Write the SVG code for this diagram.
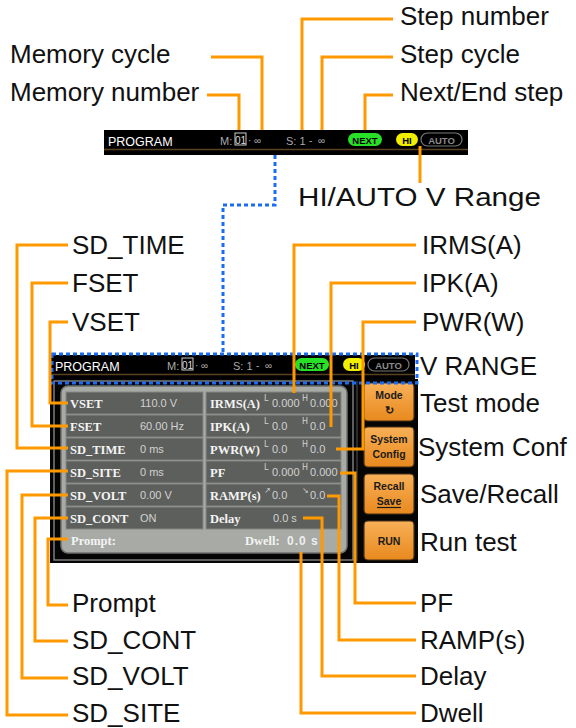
<svg xmlns="http://www.w3.org/2000/svg" width="576" height="728" viewBox="0 0 576 728">
<defs>
<style>
.lbl{font-family:"Liberation Sans",Arial,sans-serif;font-size:26px;fill:#111}
.con{fill:none;stroke:#ff9900;stroke-width:3}
.dot{fill:none;stroke:#1a6cf5;stroke-width:3;stroke-dasharray:4 3}
.cell{fill:#5d5f5c;stroke:#858784;stroke-width:1}
.fn{font-family:"Liberation Serif","Times New Roman",serif;font-weight:bold;font-size:12.5px;fill:#f4f4f4}
.val{font-family:"Liberation Sans",Arial,sans-serif;font-size:11px;fill:#d2d2d2}
.sup{font-family:"DejaVu Sans",sans-serif;font-size:8px;fill:#d2d2d2}
.btn{fill:url(#og);stroke:#4a3018;stroke-width:1.2}
.bt{font-family:"Liberation Sans",Arial,sans-serif;font-weight:bold;font-size:10.5px;fill:#1a1a1a;text-anchor:middle}
.hs{font-family:"Liberation Sans",Arial,sans-serif}
</style>
<linearGradient id="og" x1="0" y1="0" x2="0" y2="1"><stop offset="0" stop-color="#f8b058"/><stop offset="1" stop-color="#e8891e"/></linearGradient>
<g id="hdr" class="hs">
 <rect x="0" y="0" width="364" height="24" fill="#000"/>
 <line x1="0" y1="19.5" x2="364" y2="19.5" stroke="#5a4220" stroke-width="1.5"/>
 <text x="4" y="16" font-size="12.5" fill="#fff">PROGRAM</text>
 <text x="116" y="15" font-size="11" fill="#aaa">M:</text>
 <rect x="131" y="3" width="11" height="12" fill="none" stroke="#ccc" stroke-width="1"/>
 <text x="136.5" y="13.5" font-size="10" fill="#ddd" text-anchor="middle">01</text>
 <text x="144" y="14" font-size="10" fill="#aaa">·</text>
 <text x="150" y="14" font-size="10" fill="#aaa">∞</text>
 <text x="182" y="15" font-size="11" fill="#aaa">S: 1</text>
 <text x="205" y="14" font-size="10" fill="#aaa">-</text>
 <text x="214" y="14" font-size="10" fill="#aaa">∞</text>
 <rect x="244" y="3" width="34" height="13" rx="6.5" fill="#27e027"/>
 <text x="261" y="13.5" font-size="9.5" font-weight="bold" fill="#000" text-anchor="middle">NEXT</text>
 <rect x="292" y="3" width="22" height="13" rx="6.5" fill="#f2ee00"/>
 <text x="303" y="13.5" font-size="9.5" font-weight="bold" fill="#000" text-anchor="middle">HI</text>
 <rect x="317" y="3" width="41" height="13" rx="6.5" fill="none" stroke="#777" stroke-width="1.2"/>
 <text x="337.5" y="13.5" font-size="9.5" font-weight="bold" fill="#8a8a8a" text-anchor="middle">AUTO</text>
</g>
</defs>
<rect width="576" height="728" fill="#fff"/>

<g id="top-bar">
 <rect x="104" y="150" width="364" height="5" fill="#000"/>
 <line x1="107" y1="153" x2="405" y2="153" stroke="#c8c8c8" stroke-width="2"/>
 <line x1="412" y1="153" x2="466" y2="153" stroke="#c98a3a" stroke-width="2"/>
 <use href="#hdr" x="104" y="130"/>
</g>

<g id="screen">
 <rect x="50" y="379" width="368" height="184" fill="#050505"/>
 <rect x="54" y="381" width="299" height="179" fill="none" stroke="#9a9a9a" stroke-width="1.2"/>
 <line x1="357" y1="381" x2="357" y2="561" stroke="#555" stroke-width="1"/>
 <rect x="61" y="386" width="286" height="167" rx="7" fill="#a7aaa5" stroke="#6e706c" stroke-width="1.5"/>
 <use href="#hdr" x="51" y="355"/>
</g>

<g id="left-table">
 <rect class="cell" x="66" y="392" width="137" height="22"/>
 <rect class="cell" x="66" y="415" width="137" height="22"/>
 <rect class="cell" x="66" y="438" width="137" height="22"/>
 <rect class="cell" x="66" y="461" width="137" height="22"/>
 <rect class="cell" x="66" y="484" width="137" height="22"/>
 <rect class="cell" x="66" y="507" width="137" height="22"/>
 <text class="fn" x="70" y="408">VSET</text>
 <text class="fn" x="70" y="431">FSET</text>
 <text class="fn" x="70" y="454">SD_TIME</text>
 <text class="fn" x="70" y="477">SD_SITE</text>
 <text class="fn" x="70" y="500">SD_VOLT</text>
 <text class="fn" x="70" y="523">SD_CONT</text>
 <text class="val" x="140" y="407">110.0 V</text>
 <text class="val" x="140" y="430">60.00 Hz</text>
 <text class="val" x="140" y="453">0 ms</text>
 <text class="val" x="140" y="476">0 ms</text>
 <text class="val" x="140" y="499">0.00 V</text>
 <text class="val" x="140" y="522">ON</text>
</g>

<g id="right-table">
 <rect class="cell" x="206" y="392" width="135" height="22"/>
 <rect class="cell" x="206" y="415" width="135" height="22"/>
 <rect class="cell" x="206" y="438" width="135" height="22"/>
 <rect class="cell" x="206" y="461" width="135" height="22"/>
 <rect class="cell" x="206" y="484" width="135" height="22"/>
 <rect class="cell" x="206" y="507" width="135" height="22"/>
 <text class="fn" x="210" y="408">IRMS(A)</text>
 <text class="fn" x="210" y="431">IPK(A)</text>
 <text class="fn" x="210" y="454">PWR(W)</text>
 <text class="fn" x="210" y="477">PF</text>
 <text class="fn" x="210" y="500">RAMP(s)</text>
 <text class="fn" x="210" y="523">Delay</text>
 <text class="sup" x="264" y="401">L</text><text class="val" x="272" y="407">0.000</text>
 <text class="sup" x="302" y="401">H</text><text class="val" x="310" y="407">0.000</text>
 <text class="sup" x="264" y="424">L</text><text class="val" x="272" y="430">0.0</text>
 <text class="sup" x="302" y="424">H</text><text class="val" x="310" y="430">0.0</text>
 <text class="sup" x="264" y="447">L</text><text class="val" x="272" y="453">0.0</text>
 <text class="sup" x="302" y="447">H</text><text class="val" x="310" y="453">0.0</text>
 <text class="sup" x="264" y="470">L</text><text class="val" x="272" y="476">0.000</text>
 <text class="sup" x="302" y="470">H</text><text class="val" x="310" y="476">0.000</text>
 <text class="sup" x="264" y="493">↗</text><text class="val" x="272" y="499">0.0</text>
 <text class="sup" x="302" y="493">↘</text><text class="val" x="310" y="499">0.0</text>
 <text class="val" x="273" y="522">0.0 s</text>
</g>

<g id="prompt-row">
 <text class="fn" x="71" y="545">Prompt:</text>
 <text class="fn" x="245" y="545">Dwell:</text>
 <text x="287" y="545" font-family="Liberation Sans, Arial, sans-serif" font-weight="bold" font-size="12" letter-spacing="1" fill="#eee">0.0 s</text>
</g>

<g id="btn-mode">
 <rect class="btn" x="364" y="383" width="50" height="38" rx="4"/>
 <text class="bt" x="389" y="399">Mode</text>
 <text class="bt" x="389" y="414" font-family="DejaVu Sans, sans-serif" font-size="10">↻</text>
</g>
<g id="btn-system">
 <rect class="btn" x="364" y="427" width="50" height="40" rx="4"/>
 <text class="bt" x="389" y="443">System</text>
 <text class="bt" x="389" y="458">Config</text>
</g>
<g id="btn-recall">
 <rect class="btn" x="364" y="474" width="50" height="40" rx="4"/>
 <text class="bt" x="389" y="490">Recall</text>
 <text class="bt" x="389" y="505">Save</text>
 <line x1="377" y1="507.5" x2="401" y2="507.5" stroke="#1a1a1a" stroke-width="1.2"/>
</g>
<g id="btn-run">
 <rect class="btn" x="364" y="521" width="50" height="39" rx="4"/>
 <text class="bt" x="389" y="545">RUN</text>
</g>

<g id="connectors">
 <polyline class="dot" points="275,155 275,205 223,205 223,354"/>
 <rect class="dot" x="52" y="354" width="365" height="29"/>
 <polyline class="con" points="207,95 239,95 239,130"/>
 <polyline class="con" points="211,57 262,57 262,130"/>
 <polyline class="con" points="393,19 302,19 302,130"/>
 <polyline class="con" points="393,57 322,57 322,130"/>
 <polyline class="con" points="393,95 365,95 365,130"/>
 <polyline class="con" points="420,146 420,183"/>
 <polyline class="con" points="68,245 17,245 17,448 68,448"/>
 <polyline class="con" points="68,283 32,283 32,426 68,426"/>
 <polyline class="con" points="68,322 50,322 50,403 68,403"/>
 <polyline class="con" points="68,471 7,471 7,715 68,715"/>
 <polyline class="con" points="68,495 22,495 22,678 68,678"/>
 <polyline class="con" points="68,518 35,518 35,641 68,641"/>
 <polyline class="con" points="68,539 48,539 48,605 68,605"/>
 <polyline class="con" points="416,245 294,245 294,393"/>
 <polyline class="con" points="416,283 331,283 331,427"/>
 <polyline class="con" points="416,322 363,322 363,449 336,449"/>
 <polyline class="con" points="340,473 355,473 355,603 416,603"/>
 <polyline class="con" points="327,496 339,496 339,640 416,640"/>
 <polyline class="con" points="303,518 322,518 322,676 416,676"/>
 <polyline class="con" points="301,552 301,713 416,713"/>
</g>

<g id="labels">
 <text class="lbl" x="400" y="25">Step number</text>
 <text class="lbl" x="10" y="63">Memory cycle</text>
 <text class="lbl" x="400" y="63">Step cycle</text>
 <text class="lbl" x="10" y="101">Memory number</text>
 <text class="lbl" x="400" y="101">Next/End step</text>
 <text class="lbl" x="298" y="206" textLength="243" lengthAdjust="spacingAndGlyphs">HI/AUTO V Range</text>
 <text class="lbl" x="72" y="254">SD_TIME</text>
 <text class="lbl" x="72" y="292">FSET</text>
 <text class="lbl" x="72" y="331">VSET</text>
 <text class="lbl" x="422" y="254">IRMS(A)</text>
 <text class="lbl" x="422" y="292">IPK(A)</text>
 <text class="lbl" x="422" y="331">PWR(W)</text>
 <text class="lbl" x="420" y="375">V RANGE</text>
 <text class="lbl" x="420" y="412">Test mode</text>
 <text class="lbl" x="418" y="456">System Conf</text>
 <text class="lbl" x="420" y="503">Save/Recall</text>
 <text class="lbl" x="420" y="551">Run test</text>
 <text class="lbl" x="72" y="612">Prompt</text>
 <text class="lbl" x="72" y="649">SD_CONT</text>
 <text class="lbl" x="72" y="685">SD_VOLT</text>
 <text class="lbl" x="72" y="722">SD_SITE</text>
 <text class="lbl" x="420" y="612">PF</text>
 <text class="lbl" x="420" y="649">RAMP(s)</text>
 <text class="lbl" x="420" y="685">Delay</text>
 <text class="lbl" x="420" y="722">Dwell</text>
</g>
</svg>
